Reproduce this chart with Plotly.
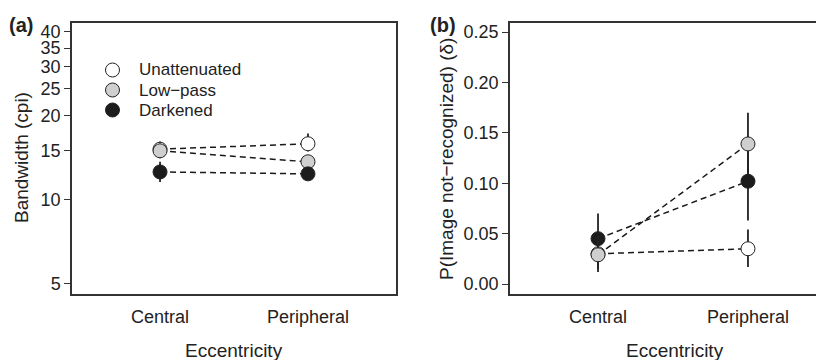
import plotly.graph_objects as go

categories = ["Central", "Peripheral"]
cat_pos = [1, 2]
series = ["Unattenuated", "Low−pass", "Darkened"]
fill_colors = ["#ffffff", "#cfcfcf", "#1c1c1c"]

# Panel (a): bandwidth (cpi)
bw_unatt = [15.2, 15.9]
bw_unatt_hi = [16.2, 17.3]
bw_unatt_lo = [14.3, 14.9]
bw_low = [15.0, 13.7]
bw_low_hi = [15.9, 14.5]
bw_low_lo = [14.1, 13.0]
bw_dark = [12.6, 12.4]
bw_dark_hi = [13.7, 13.0]
bw_dark_lo = [11.6, 11.9]
bw_ticks = [5, 10, 15, 20, 25, 30, 35, 40]

# Panel (b): P(image not-recognized)
p_unatt = [0.030, 0.035]
p_unatt_hi = [0.047, 0.054]
p_unatt_lo = [0.015, 0.017]
p_low = [0.029, 0.139]
p_low_hi = [0.048, 0.170]
p_low_lo = [0.012, 0.108]
p_dark = [0.045, 0.102]
p_dark_hi = [0.070, 0.140]
p_dark_lo = [0.022, 0.063]
p_ticks = [0.00, 0.05, 0.10, 0.15, 0.20, 0.25]
p_tick_text = ["0.00", "0.05", "0.10", "0.15", "0.20", "0.25"]

FONT = "Liberation Sans, Arial, Helvetica, sans-serif"
TXT = "#222222"
LINE = "#333333"

# the page body adds an 8px offset; work in reference pixels and subtract it
OFF = 8
W, H = 824 - OFF, 360 - OFF
TOP, BOT = 23 - OFF, 294 - OFF          # plot area top / bottom in figure px
PH = BOT - TOP


def px(x):
    return (x - OFF) / W


def py(y):
    return (BOT - (y - OFF)) / PH


fig = go.Figure()


def add_series(y, hi, lo, color, xa, ya):
    fig.add_trace(go.Scatter(
        x=cat_pos, y=y, mode="lines+markers", xaxis=xa, yaxis=ya,
        showlegend=False,
        line=dict(color="#1a1a1a", width=1.5, dash="6px,4px"),
        marker=dict(size=14, color=color, line=dict(color="#222222", width=1)),
        error_y=dict(type="data", symmetric=False,
                     array=[h - v for h, v in zip(hi, y)],
                     arrayminus=[v - l for v, l in zip(y, lo)],
                     width=0, thickness=1.8, color="#222222"),
    ))


# panel a order: unattenuated, low-pass, darkened
add_series(bw_unatt, bw_unatt_hi, bw_unatt_lo, fill_colors[0], "x", "y")
add_series(bw_low, bw_low_hi, bw_low_lo, fill_colors[1], "x", "y")
add_series(bw_dark, bw_dark_hi, bw_dark_lo, fill_colors[2], "x", "y")
# panel b order: unattenuated, darkened, low-pass
add_series(p_unatt, p_unatt_hi, p_unatt_lo, fill_colors[0], "x2", "y2")
add_series(p_dark, p_dark_hi, p_dark_lo, fill_colors[2], "x2", "y2")
add_series(p_low, p_low_hi, p_low_lo, fill_colors[1], "x2", "y2")

# legend key: markers on a hidden overlay axis measured in paper fractions
leg_x = 110
leg_rows = [70, 90, 110]
fig.add_trace(go.Scatter(
    x=[px(leg_x)] * 3, y=[py(r) for r in leg_rows], mode="markers",
    xaxis="x3", yaxis="y3", showlegend=False, hoverinfo="skip",
    marker=dict(size=14, color=fill_colors, line=dict(color="#222222", width=1)),
))

common_x = dict(
    tickmode="array", tickvals=cat_pos, ticktext=categories,
    showline=True, linecolor=LINE, linewidth=1.5,
    ticks="outside", ticklen=6, tickcolor="rgba(0,0,0,0)",
    showgrid=False, zeroline=False,
    tickfont=dict(family=FONT, size=18, color=TXT),
)
common_y = dict(
    showline=True, linecolor=LINE, linewidth=1.5,
    ticks="outside", ticklen=6, tickwidth=1.2, tickcolor=LINE,
    showgrid=False, zeroline=False,
    tickfont=dict(family=FONT, size=18, color=TXT),
)

fig.update_layout(
    width=W, height=H,
    margin=dict(l=0, r=0, t=TOP, b=H - BOT),
    paper_bgcolor="white", plot_bgcolor="white",
    font=dict(family=FONT, size=17, color=TXT),
    showlegend=False,
    xaxis=dict(domain=[px(72), px(396)], range=[0.405, 2.595], mirror=True, **common_x),
    yaxis=dict(type="log", range=[0.663, 1.634], tickvals=bw_ticks,
               ticktext=[str(t) for t in bw_ticks], mirror=True, anchor="x", **common_y),
    xaxis2=dict(domain=[px(510), 1.0], range=[0.413, 2.507], mirror=True, anchor="y2", **common_x),
    yaxis2=dict(range=[-0.0099, 0.259], tickvals=p_ticks, ticktext=p_tick_text,
                anchor="x2", **common_y),
    xaxis3=dict(domain=[0, 1], range=[0, 1], visible=False, overlaying="x", anchor="y3"),
    yaxis3=dict(domain=[0, 1], range=[0, 1], visible=False, overlaying="y", anchor="x3"),
)

ann = [
    dict(text="<b>(a)</b>", x=px(21), y=py(25), font=dict(size=20)),
    dict(text="<b>(b)</b>", x=px(443), y=py(25), font=dict(size=20)),
    dict(text="Eccentricity", x=px(234), y=py(350), font=dict(size=19)),
    dict(text="Eccentricity", x=px(675), y=py(350), font=dict(size=19)),
    dict(text="Bandwidth (cpi)", x=px(21), y=py(158), textangle=-90, font=dict(size=19)),
    dict(text="P(Image not−recognized) (δ)", x=px(446), y=py(159), textangle=-90,
         font=dict(size=19)),
]
for name, r in zip(series, leg_rows):
    ann.append(dict(text=name, x=px(137), y=py(r), xanchor="left"))

for a in ann:
    f = dict(family=FONT, size=17, color=TXT)
    f.update(a.pop("font", {}))
    a.setdefault("xanchor", "center")
    fig.add_annotation(xref="paper", yref="paper", showarrow=False,
                       yanchor="middle", font=f, **a)

fig.write_html("out.html")
